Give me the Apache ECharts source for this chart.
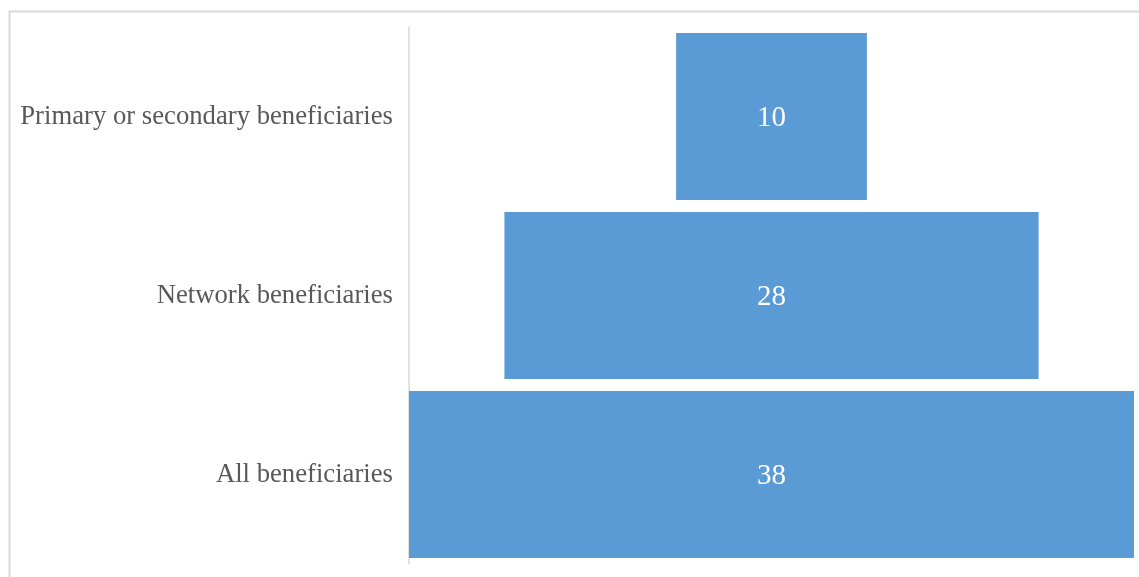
<!DOCTYPE html>
<html><head><meta charset="utf-8">
<script src="https://cdn.jsdelivr.net/npm/echarts@6/dist/echarts.min.js"></script>
<style>html,body{margin:0;padding:0;background:#fff}#c{width:1139px;height:577px}</style>
</head><body><div id="c"></div>
<script>
const categories = ['All beneficiaries', 'Network beneficiaries', 'Primary or secondary beneficiaries'];
const values = [38, 28, 10];
const maxValue = 38;

const offsets = values.map(v => (maxValue - v) / 2);
const chart = echarts.init(document.getElementById('c'), null, {renderer: 'canvas'});
chart.setOption({
  animation: false,
  graphic: [{type: 'rect', left: 7, top: 9, shape: {width: 1160, height: 600}, style: {fill: 'none', stroke: '#d9d9d9', lineWidth: 2}, z: -1}],
  grid: {left: 409, right: 5, top: 27, bottom: 13, containLabel: false},
  xAxis: {type: 'value', min: 0, max: maxValue, show: false},
  yAxis: {
    type: 'category', data: categories,
    axisLine: {show: true, lineStyle: {color: '#d9d9d9', width: 1.5}},
    axisTick: {show: false},
    axisLabel: {color: '#595959', fontFamily: 'Liberation Serif', fontSize: 26.7, margin: 16, padding: [7, 0, 0, 0]}
  },
  series: [
    {type: 'bar', stack: 's', data: offsets, itemStyle: {color: 'transparent'}, barWidth: 167, silent: true},
    {type: 'bar', stack: 's', data: values, barWidth: 167,
     itemStyle: {color: '#5B9BD5'},
     label: {show: true, position: 'inside', color: '#fff', fontFamily: 'Liberation Serif', fontSize: 29, offset: [0, 2]}}
  ]
});
</script></body></html>
